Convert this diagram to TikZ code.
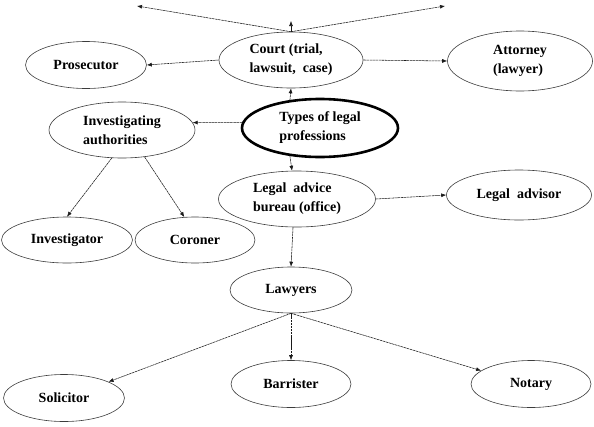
\documentclass[tikz,border=0pt]{standalone}
\usepackage{fontspec}
\setmainfont{Liberation Serif}
\usetikzlibrary{arrows.meta, shapes.geometric}
\definecolor{inkline}{HTML}{1A1A1A}
\definecolor{rimline}{HTML}{3C3C3C}
\tikzset{
  bubble/.style={ellipse, draw=rimline, line width=0.6pt, inner sep=0pt,
                 align=left, font=\fontsize{14}{19}\selectfont\bfseries},
  hub/.style={bubble, draw=black, line width=2.6pt},
  link/.style={-{Latex[length=5pt,width=4pt]}, line width=0.55pt,
               draw=inkline, dash pattern=on 2.5pt off 0.6pt},
}
\def\wide{145pt}
\def\slim{121pt}

\begin{document}
\begin{tikzpicture}[x=1pt, y=-1pt]
\useasboundingbox (0,0) rectangle (594,426);

% Top row
\node[bubble, minimum width=144pt, minimum height=56pt] (court) at (291,60)
  {Court (trial,\\lawsuit,\ \ case)};
\node[bubble, minimum width=\slim, minimum height=47pt] (prosecutor) at (86,65)
  {Prosecutor};
\node[bubble, minimum width=\wide, minimum height=60pt] (attorney) at (520,61)
  {Attorney\\(lawyer)};

% Free ends above the court
\coordinate (upleft)  at (137,6);
\coordinate (upright) at (445,6);
\coordinate (upmid)   at (291,21);

% Middle
\node[hub, minimum width=156pt, minimum height=58pt] (types) at (320,128)
  {Types of legal\\professions};
\node[bubble, minimum width=146pt, minimum height=56pt] (invest) at (122,130)
  {Investigating\\authorities};
\node[bubble, minimum width=131pt, minimum height=46pt] (investigator) at (67,240)
  {Investigator};
\node[bubble, minimum width=120pt, minimum height=46pt] (coroner) at (195,240)
  {Coroner};
\node[bubble, minimum width=157pt, minimum height=56pt] (advice) at (297,199)
  {Legal\ \ advice\\bureau (office)};
\node[bubble, minimum width=\wide, minimum height=50pt] (advisor) at (519,195)
  {Legal\ \ advisor};

% Lawyers and their branches
\node[bubble, minimum width=122pt, minimum height=46pt] (lawyers) at (291,290)
  {Lawyers};
\node[bubble, minimum width=\slim, minimum height=47pt] (solicitor) at (64,398)
  {Solicitor};
\node[bubble, minimum width=120pt, minimum height=47pt] (barrister) at (291,384)
  {Barrister};
\node[bubble, minimum width=120pt, minimum height=47pt] (notary) at (531,384)
  {Notary};

% Flow
\draw[link] (court.north) -- (upleft);
\draw[link] (court.north) -- (upright);
\draw[link] (court.north) -- (upmid);
\draw[link] (court.west)  -- (prosecutor.east);
\draw[link] (court.east)  -- (attorney.west);
\draw[link] (types.137)   -- (court.south);
\draw[link] (types.176)   -- (invest.6);
\draw[link] (types.223)   -- (advice.100);
\draw[link] (invest.250)  -- (investigator.north);
\draw[link] (invest.310)  -- (coroner.115);
\draw[link] (advice.east) -- (advisor.west);
\draw[link] (advice.262)  -- (lawyers.north);
\draw[link] (lawyers.south) -- (solicitor.20);
\draw[link] (lawyers.south) -- (barrister.north);
\draw[link] (lawyers.south) -- (notary.165);

\end{tikzpicture}
\end{document}
